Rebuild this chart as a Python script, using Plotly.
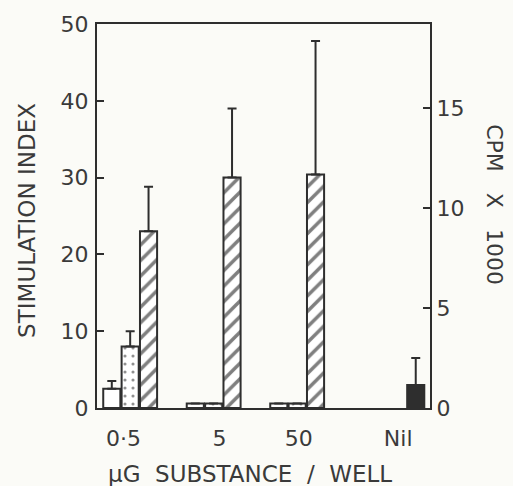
import plotly.graph_objects as go

categories = ["0·5", "5", "50", "Nil"]
open_vals = [2.5, 0.6, 0.6, None]
open_err = [1.0, 0.0, 0.0, None]
dotted_vals = [8.0, 0.6, 0.6, None]
dotted_err = [2.0, 0.0, 0.0, None]
hatched_vals = [23.0, 30.0, 30.4, None]
hatched_err = [5.8, 9.0, 17.4, None]
nil_vals = [None, None, None, 3.0]
nil_err = [None, None, None, 3.5]
left_ticks = [0, 10, 20, 30, 40, 50]
right_ticks = [0, 5, 10, 15]

LINE = "#2e2e2e"
TXT = "#3a3a3a"
FONT = "DejaVu Sans"
group_pos = [0, 1, 2, 3.41]
label_pos = [-0.09, 1.06, 2.01, 3.20]
bw = 0.205
NB = "\u00a0"

def shifted(off):
    return [g + off for g in group_pos]

def err(arr):
    return dict(type="data", symmetric=False, array=[e if e is not None else 0 for e in arr],
                arrayminus=[0] * len(arr), color=LINE, thickness=2, width=4.5)

fig = go.Figure()
fig.add_trace(go.Bar(x=shifted(-0.23), y=open_vals, width=bw, error_y=err(open_err),
                     marker=dict(color="white", line=dict(color=LINE, width=2))))
fig.add_trace(go.Bar(x=shifted(-0.01), y=dotted_vals, width=bw, error_y=err(dotted_err),
                     marker=dict(color="white", line=dict(color=LINE, width=2),
                                 pattern=dict(shape=".", fgcolor="#222222", bgcolor="white",
                                              size=8, solidity=0.12))))
fig.add_trace(go.Bar(x=shifted(0.21), y=hatched_vals, width=bw, error_y=err(hatched_err),
                     marker=dict(color="white", line=dict(color=LINE, width=2),
                                 pattern=dict(shape="/", fgcolor="#000000", bgcolor="white",
                                              size=11, solidity=0.32))))
fig.add_trace(go.Bar(x=group_pos, y=nil_vals, width=bw, error_y=err(nil_err),
                     marker=dict(color="#2e2e2e", line=dict(color=LINE, width=2))))
# invisible trace for the right axis
fig.add_trace(go.Scatter(x=[0], y=[0], yaxis="y2", mode="markers",
                         marker=dict(opacity=0), hoverinfo="skip"))

px_per_unit = 83.5
x_left = -34 / px_per_unit
x_right = 299 / px_per_unit

fig.update_layout(
    width=513, height=486,
    margin=dict(l=97, r=83, t=16, b=78),
    paper_bgcolor="#fbfbf7", plot_bgcolor="#fbfbf7",
    showlegend=False, barmode="overlay",
    font=dict(family=FONT, size=22, color=TXT),
    xaxis=dict(range=[x_left, x_right], tickvals=label_pos, ticktext=categories,
               showgrid=False, zeroline=False, showline=True, linecolor=LINE, linewidth=2,
               mirror=True, ticks="", ticklabelstandoff=10),
    yaxis=dict(range=[0, 50], tickvals=left_ticks, showgrid=False, zeroline=False,
               showline=True, linecolor=LINE, linewidth=2, ticks="inside", ticklen=7,
               tickwidth=2, tickcolor=LINE, ticklabelstandoff=2),
    yaxis2=dict(range=[0, 19.2], tickvals=right_ticks, overlaying="y", side="right",
                showgrid=False, zeroline=False, showline=True, linecolor=LINE, linewidth=2,
                ticks="inside", ticklen=7, tickwidth=2, tickcolor=LINE, ticklabelstandoff=0),
)
fig.add_annotation(text="STIMULATION INDEX", textangle=-90,
                   xref="paper", yref="paper", x=(27 - 97) / 333, y=(408 - 217) / 392,
                   xanchor="center", yanchor="middle", showarrow=False,
                   font=dict(size=23, family=FONT, color=TXT))
fig.add_annotation(text="CPM" + NB * 2 + " X" + NB * 2 + " 1000", textangle=90,
                   xref="paper", yref="paper", x=(495 - 97) / 333, y=(408 - 200) / 392,
                   xanchor="center", yanchor="middle", showarrow=False,
                   font=dict(size=22, family=FONT, color=TXT))
fig.add_annotation(text="μG" + NB + " SUBSTANCE" + NB + " /" + NB + " WELL",
                   xref="paper", yref="paper", x=(250 - 97) / 333, y=(408 - 475) / 392,
                   xanchor="center", yanchor="middle", showarrow=False,
                   font=dict(size=23, family=FONT, color=TXT))
fig.write_html("out.html", config={"displayModeBar": False},
               post_script="document.body.style.margin='0';")
